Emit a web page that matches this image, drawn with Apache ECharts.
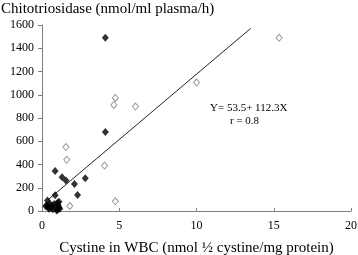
<!DOCTYPE html>
<html><head><meta charset="utf-8">
<script src="https://cdn.jsdelivr.net/npm/echarts@6/dist/echarts.min.js"></script>
<style>html,body{margin:0;padding:0;background:#fff}#c{width:358px;height:255px}</style>
</head><body><div id="c"></div>
<script>
const filledX = [4.1, 4.1, 0.85, 0.85, 1.3, 1.55, 2.1, 2.8, 2.3, 0.35, 0.3, 0.4, 0.45, 0.55, 0.6, 0.7, 0.8, 0.9, 0.95, 1.0, 1.0, 1.05, 1.1, 1.1, 0.5, 0.25, 0.65, 1.15];
const filledY = [1490, 680, 345, 135, 290, 262, 233, 282, 138, 90, 50, 30, 20, 40, 25, 15, 60, 30, 5, 70, 10, 50, 30, 80, 60, 40, 50, 20];
const openX = [15.35, 10.0, 4.75, 4.65, 6.05, 1.55, 1.6, 4.05, 4.75, 1.8];
const openY = [1490, 1105, 973, 912, 898, 550, 440, 391, 83, 43];
const fitX = [0.4, 13.5];
const fitY = [98, 1570];
const xTicks = [0, 5, 10, 15, 20];
const yTicks = [0, 200, 400, 600, 800, 1000, 1200, 1400, 1600];

const zip = (a, b) => a.map((v, i) => [v, b[i]]);
const font = '"Liberation Serif", "Times New Roman", serif';
const chart = echarts.init(document.getElementById('c'), null, {renderer: 'canvas'});
chart.setOption({
  animation: false,
  textStyle: {fontFamily: font, color: '#000'},
  title: {text: 'Chitotriosidase (nmol/ml plasma/h)', left: -4, top: -3,
    textStyle: {fontFamily: font, fontSize: 15, fontWeight: 'normal', color: '#000'}},
  grid: {left: 42, right: 7, top: 25, bottom: 44, containLabel: false, outerBoundsMode: 'none'},
  xAxis: {type: 'value', min: xTicks[0], max: xTicks[xTicks.length - 1], interval: 5,
    name: 'Cystine in WBC (nmol ½ cystine/mg protein)', nameLocation: 'middle', nameGap: 30,
    nameTextStyle: {fontFamily: font, fontSize: 15, color: '#000'},
    axisLine: {lineStyle: {color: '#808080', width: 1}},
    axisTick: {inside: true, length: 3, lineStyle: {color: '#808080'}},
    axisLabel: {fontFamily: font, fontSize: 12, color: '#000', margin: 9},
    splitLine: {show: false}},
  yAxis: {type: 'value', min: yTicks[0], max: yTicks[yTicks.length - 1], interval: 200,
    axisLine: {show: true, lineStyle: {color: '#808080', width: 1}},
    axisTick: {show: true, length: 4, lineStyle: {color: '#808080'}},
    axisLabel: {fontFamily: font, fontSize: 12, color: '#000', margin: 8, formatter: v => String(v)},
    splitLine: {show: false}},
  graphic: [
    {type: 'text', left: 210, top: 103, style: {text: 'Y= 53.5+ 112.3X', font: '11px ' + font, fill: '#000'}},
    {type: 'text', left: 230, top: 116, style: {text: 'r = 0.8', font: '11px ' + font, fill: '#000'}}
  ],
  series: [
    {type: 'line', data: zip(fitX, fitY), showSymbol: false, symbol: 'none',
     lineStyle: {color: '#222', width: 1}, silent: true, z: 1},
    {type: 'scatter', data: zip(openX, openY), symbol: 'diamond', symbolSize: [6, 7],
     itemStyle: {color: '#fff', borderColor: '#808080', borderWidth: 1}, z: 2},
    {type: 'scatter', data: zip(filledX, filledY), symbol: 'diamond', symbolSize: [7, 8],
     itemStyle: {color: '#000'}, z: 3}
  ]
});
</script></body></html>
